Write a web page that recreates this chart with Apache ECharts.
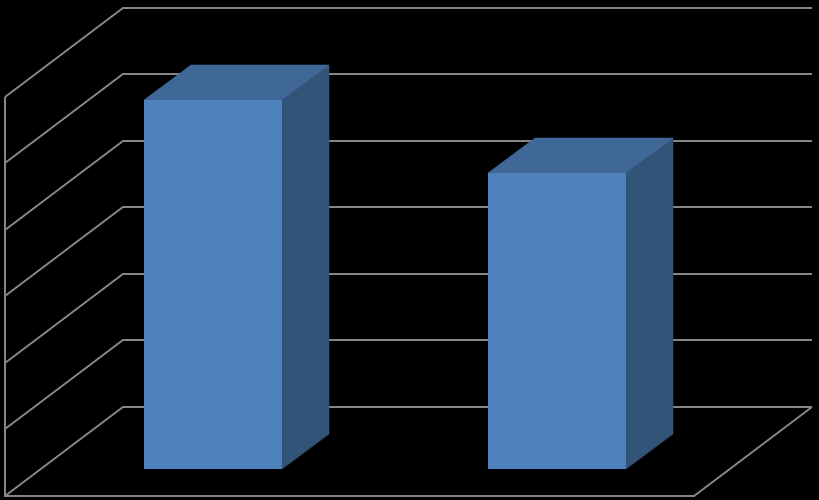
<!DOCTYPE html>
<html>
<head>
<meta charset="utf-8">
<style>html,body{margin:0;padding:0;background:#000}#c{width:819px;height:500px}</style>
<script src="https://cdn.jsdelivr.net/npm/echarts@6/dist/echarts.min.js"></script>
</head>
<body>
<div id="c"></div>
<script>
var categories = ['Category 1', 'Category 2'];
var values = [5.55, 4.45];
var yTicks = [0, 1, 2, 3, 4, 5, 6];

var lineColor = '#868686';
var frontColor = '#4F81BD';
var topColor = '#3F6797';
var sideColor = '#335479';
var depthX = 118, depthY = -89;
var gapDepth = 0.3, barDepth = 0.4, barWidthRatio = 0.4;

var chart = echarts.init(document.getElementById('c'));

function wallItem(params, api) {
  var cs = params.coordSys;
  var y = Math.floor(api.coord([categories[0], api.value(0)])[1]);
  var x0 = cs.x, x1 = cs.x + cs.width;
  var style = { stroke: lineColor, lineWidth: 2, fill: null };
  var kids = [{
    type: 'polyline',
    shape: { points: [[x0, y], [x0 + depthX, y + depthY], [x1 + depthX, y + depthY]] },
    style: style
  }];
  if (api.value(0) === yTicks[0]) {
    kids.push({
      type: 'polyline',
      shape: { points: [[x0, cs.y], [x0, y], [x1, y], [x1 + depthX, y + depthY]] },
      style: style
    });
  }
  return { type: 'group', children: kids };
}

function barItem(params, api) {
  var top = api.coord([api.value(0), api.value(1)]);
  var base = api.coord([api.value(0), 0]);
  var w = api.size([1, 0])[0] * barWidthRatio;
  var ox = depthX * gapDepth, oy = depthY * gapDepth;
  var dx = Math.round(depthX * barDepth), dy = Math.ceil(depthY * barDepth);
  var l = Math.round(top[0] - w / 2 + ox), r = Math.round(top[0] + w / 2 + ox);
  var t = Math.round(top[1] + oy), b = Math.round(base[1] + oy);
  function face(fill) { return { fill: fill, stroke: fill, lineWidth: 0.6 }; }
  return {
    type: 'group',
    children: [
      { type: 'polygon', shape: { points: [[r, t], [r + dx, t + dy], [r + dx, b + dy], [r, b]] }, style: face(sideColor) },
      { type: 'polygon', shape: { points: [[l, t], [l + dx, t + dy], [r + dx, t + dy], [r, t]] }, style: face(topColor) },
      { type: 'rect', shape: { x: l, y: t, width: r - l, height: b - t }, style: { fill: frontColor } }
    ]
  };
}

chart.setOption({
  animation: false,
  backgroundColor: '#000000',
  grid: { left: 5, right: 125, top: 97, bottom: 4 },
  xAxis: { type: 'category', data: categories, show: false },
  yAxis: { type: 'value', min: 0, max: 6, interval: 1, show: false },
  series: [
    {
      type: 'custom',
      renderItem: wallItem,
      data: yTicks.map(function (t) { return [t]; }),
      encode: { y: 0 },
      silent: true,
      z: 1
    },
    {
      type: 'custom',
      renderItem: barItem,
      data: categories.map(function (c, i) { return [i, values[i]]; }),
      encode: { x: 0, y: 1 },
      silent: true,
      z: 2
    }
  ]
});
</script>
</body>
</html>
